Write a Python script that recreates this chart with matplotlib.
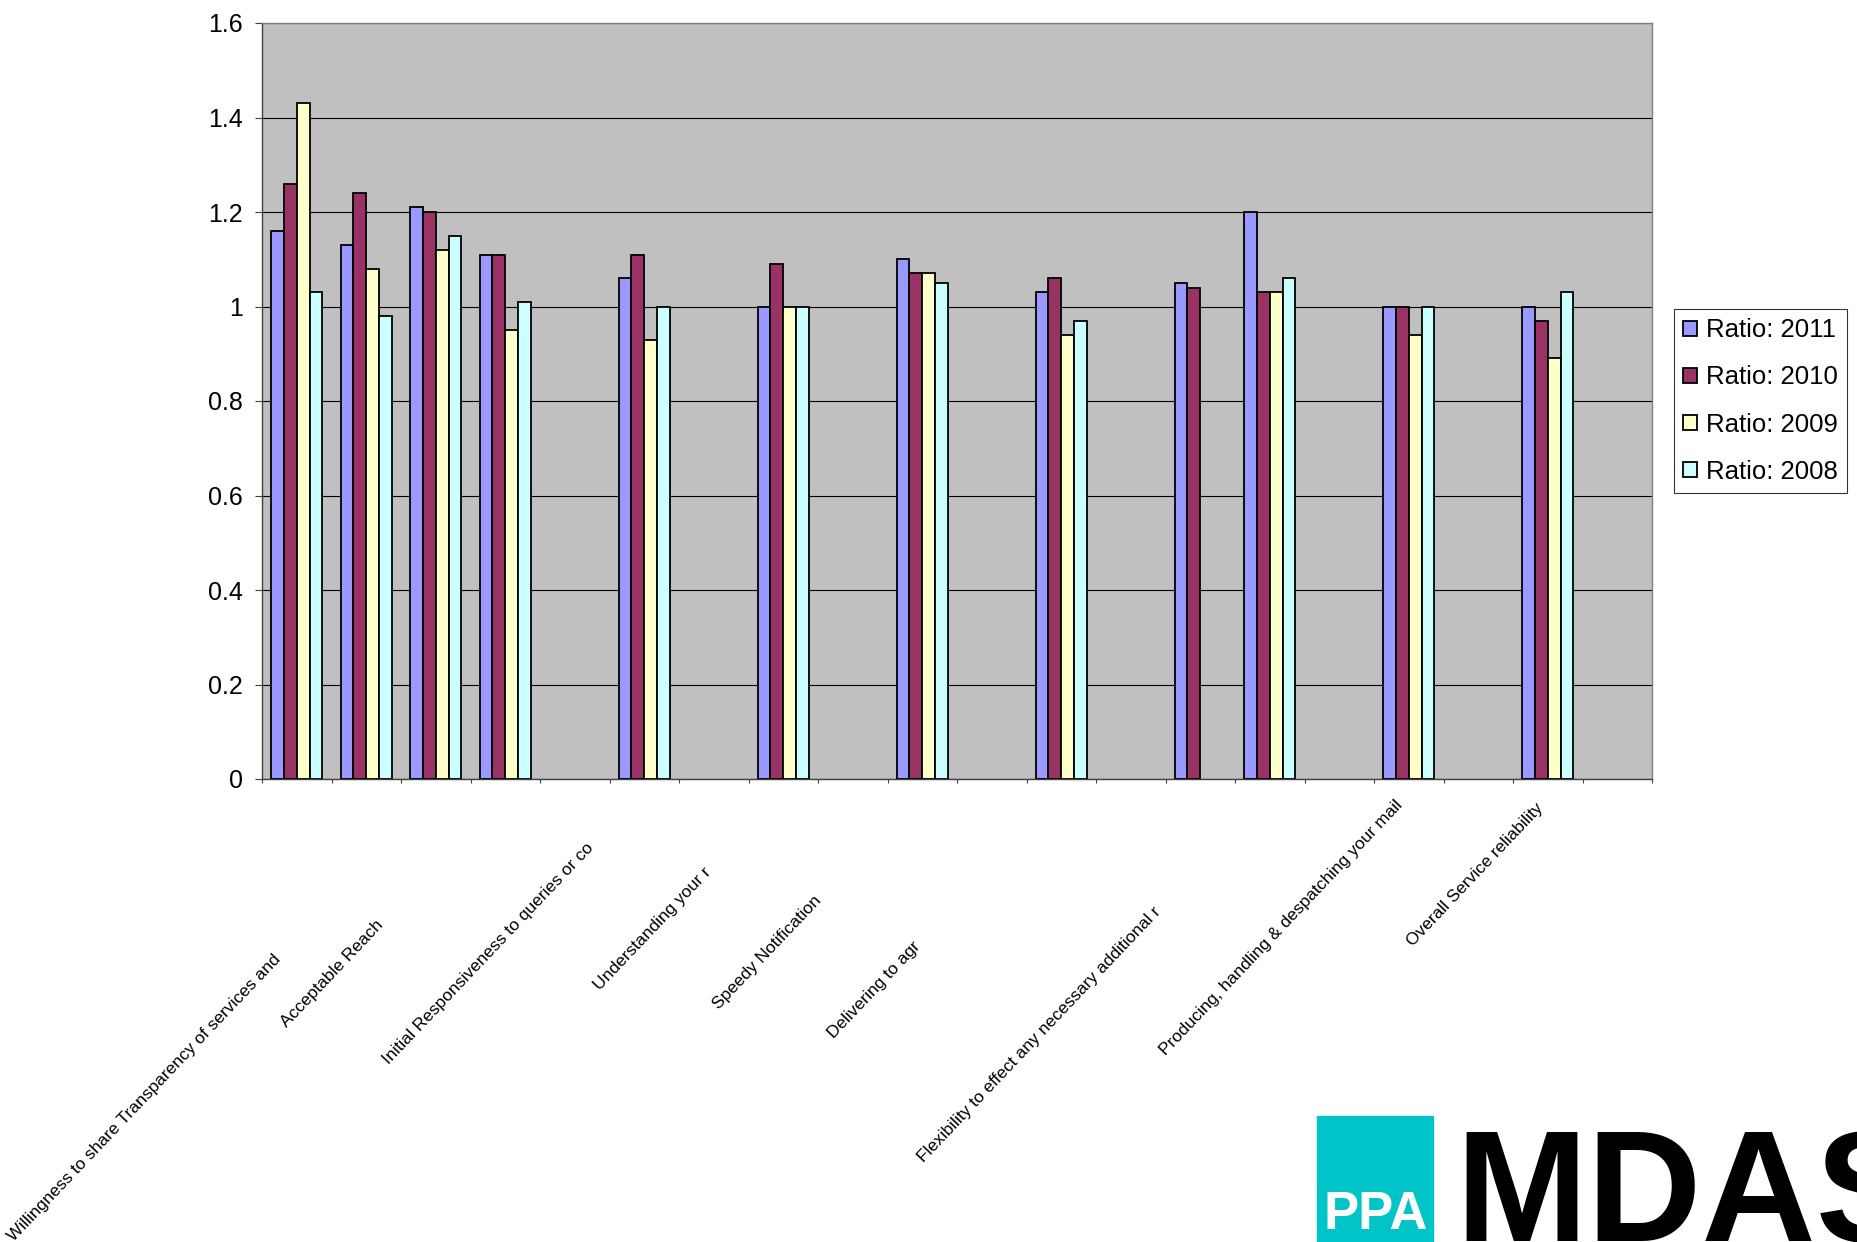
import numpy as np
import matplotlib.pyplot as plt
from matplotlib.patches import Rectangle

# ratios per category (20 slots on the axis, None = no bar)
n_cats = 20
ratio_2011 = [1.16, 1.13, 1.21, 1.11, None, 1.06, None, 1.00, None, 1.10,
              None, 1.03, None, 1.05, 1.20, None, 1.00, None, 1.00, None]
ratio_2010 = [1.26, 1.24, 1.20, 1.11, None, 1.11, None, 1.09, None, 1.07,
              None, 1.06, None, 1.04, 1.03, None, 1.00, None, 0.97, None]
ratio_2009 = [1.43, 1.08, 1.12, 0.95, None, 0.93, None, 1.00, None, 1.07,
              None, 0.94, None, None, 1.03, None, 0.94, None, 0.89, None]
ratio_2008 = [1.03, 0.98, 1.15, 1.01, None, 1.00, None, 1.00, None, 1.05,
              None, 0.97, None, None, 1.06, None, 1.00, None, 1.03, None]
series = [ratio_2011, ratio_2010, ratio_2009, ratio_2008]
series_names = ['Ratio: 2011', 'Ratio: 2010', 'Ratio: 2009', 'Ratio: 2008']

tick_labels = ['Willingness to share Transparency of services and',
               'Acceptable Reach',
               'Initial Responsiveness to queries or co',
               'Understanding your r',
               'Speedy Notification',
               'Delivering to agr',
               'Flexibility to effect any necessary additional r',
               'Producing, handling & despatching your mail',
               'Overall Service reliability']

# where each (rotated) label ends: x in category units, drop below axis in px
label_x = [-0.35, 1.13, 4.16, 5.85, 7.43, 8.85, 12.32, 15.80, 17.82]
label_drop = [173, 138, 61, 86, 114, 160, 125, 18, 21]

colours = ['#9999FF', '#993366', '#FFFFCC', '#CCFFFF']

plt.rcParams['font.family'] = ['Liberation Sans', 'DejaVu Sans']

W, H = 1858, 1242
fig = plt.figure(figsize=(W / 100, H / 100), dpi=100)
ax = fig.add_axes([262 / W, 1 - 779 / H, 1390 / W, 756 / H])
ax.set_facecolor('#C0C0C0')
ax.set_axisbelow(True)

x = np.arange(n_cats)
bw = 0.1835
for k, (vals, name, col) in enumerate(zip(series, series_names, colours)):
    v = np.array([np.nan if a is None else a for a in vals], dtype=float)
    ok = ~np.isnan(v)
    ax.bar(x[ok] + (k - 1.5) * bw, v[ok], width=bw, color=col,
           edgecolor='black', linewidth=1.3, label=name, zorder=3)

ax.set_xlim(-0.5, n_cats - 0.5)
ax.set_ylim(0, 1.6)
yt = np.round(np.arange(0, 1.61, 0.2), 1)
ax.set_yticks(yt)
ax.set_yticklabels([f'{v:g}' for v in yt], fontsize=18)
ax.yaxis.grid(True, color='black', linewidth=0.8)
ax.tick_params(axis='y', length=4.7, width=0.8, pad=9, color='#404040')

ax.set_xticks(np.arange(-0.5, n_cats, 1))
ax.set_xticklabels([])
ax.tick_params(axis='x', length=3.2, width=0.8, color='#404040')

for s in ['top', 'right']:
    ax.spines[s].set_color('#808080')
    ax.spines[s].set_linewidth(1.0)
for s in ['left', 'bottom']:
    ax.spines[s].set_color('#404040')
    ax.spines[s].set_linewidth(1.0)

for txt, lx, ld in zip(tick_labels, label_x, label_drop):
    ax.annotate(txt, xy=(lx, 0), xycoords=('data', 'axes fraction'),
                xytext=(0, -ld / 1.389), textcoords='offset points',
                rotation=46.5, rotation_mode='anchor', ha='right', va='top',
                fontsize=12.5, annotation_clip=False)

leg = fig.legend(loc='upper left', bbox_to_anchor=(1674 / W, 1 - 309 / H),
                 frameon=True, fancybox=False, edgecolor='black', fontsize=18.5,
                 handlelength=0.52, handleheight=0.52, handletextpad=0.38,
                 labelspacing=0.9, borderpad=0.36, borderaxespad=0)
leg.get_frame().set_linewidth(0.8)

# PPA MDAS logo, bottom right
fig.patches.append(Rectangle((1317 / W, 0), 116 / W, 126 / H,
                             transform=fig.transFigure, color='#00C4C8'))
fig.text(1376 / W, 1 - 1229 / H, 'PPA', color='white', fontsize=38,
         fontweight='bold', family='Liberation Sans',
         ha='center', va='baseline')
fig.text(1455 / W, 1 - 1241 / H, 'MDAS', color='black', fontsize=114,
         fontweight='bold', family='Liberation Sans', ha='left', va='baseline')

fig.savefig('out.png', dpi=100)
